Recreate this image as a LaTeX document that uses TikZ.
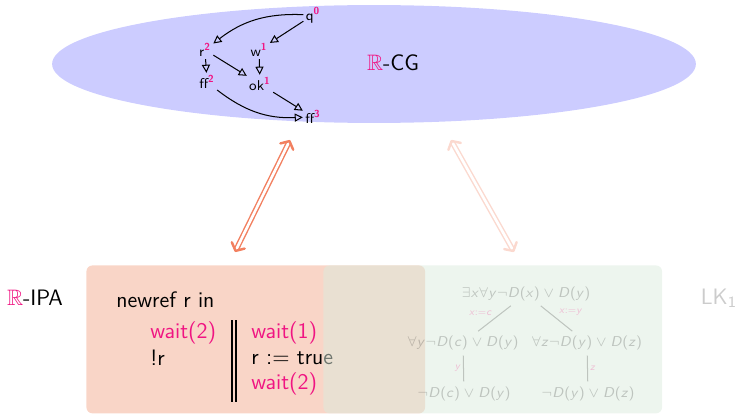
\documentclass[tikz,border=0pt]{standalone}
\definecolor{hot}{RGB}{240,20,130}
\definecolor{cgblue}{RGB}{204,204,255}
\definecolor{ipared}{RGB}{249,213,199}
\definecolor{lkgreen}{RGB}{219,235,221}
\definecolor{refc}{RGB}{242,128,96}
\usepackage{amsmath,amssymb}
\usepackage{tikz}
\usetikzlibrary{arrows.meta,positioning,shapes.geometric}
\SetSymbolFont{operators}{normal}{OT1}{cmss}{m}{n}
\SetSymbolFont{letters}{normal}{OT1}{cmss}{m}{it}

\newcommand{\lv}[1]{\textsuperscript{\textcolor{hot}{\bfseries #1}}}
\newcommand{\RR}{\textcolor{hot}{$\mathbb{R}$}}

\begin{document}
\begin{tikzpicture}[
  x=0.0173cm, y=-0.0173cm,
  font=\sffamily\fontsize{11}{13}\selectfont,
  gn/.style={font=\sffamily\fontsize{7}{8}\selectfont, inner sep=1pt},
  dep/.style={-{Triangle[open, length=4pt, width=4pt]}, line width=0.5pt},
  bigbox/.style={rectangle, rounded corners=3pt, minimum width=5.86cm, minimum height=2.56cm, anchor=north west, inner sep=0pt},
  code/.style={inner sep=0pt, anchor=west},
  ref/.style={{Straight Barb[round, length=3pt, width=7pt, line width=1.2pt]}-{Straight Barb[round, length=3pt, width=7pt, line width=1.2pt]}, double=white, double distance=1.3pt, line width=0.7pt, draw=refc},
  fml/.style={font=\fontsize{7.4}{8.5}\selectfont, inner sep=1.5pt, opacity=0.2},
  sub/.style={font=\fontsize{5}{6}\selectfont, text=hot, inner sep=1pt, opacity=0.25},
  tree/.style={draw, line width=0.5pt, opacity=0.2, shorten <=1pt, shorten >=1pt},
]
\useasboundingbox (0,0) rectangle (740,414);

% Game semantics
\node[ellipse, fill=cgblue, minimum width=11.14cm, minimum height=2.04cm, inner sep=0pt] (cg) at (374,64) {};
\node (cglab) at (393,63) {\RR-CG};

\node[gn] (q) at (313,15) {q\lv{0}};
\node[gn] (r) at (205,50) {r\lv{2}};
\node[gn] (w) at (259,50) {w\lv{1}};
\node[gn] (ff) at (207,82) {ff\lv{2}};
\node[gn] (ok) at (260,84) {ok\lv{1}};
\node[gn] (res) at (313,117) {ff\lv{3}};
\draw[dep] (q) to[bend right=20] (r);
\draw[dep] (q) -- (w);
\draw[dep] (r) -- (ff);
\draw[dep] (r) -- (ok);
\draw[dep] (w) -- (ok);
\draw[dep] (ff) to[bend right=20] (res);
\draw[dep] (ok) -- (res);

% Correspondences
\coordinate (cgl) at (290,140);
\coordinate (ipat) at (235,252);
\draw[ref] (ipat) -- (cgl);
\coordinate (cgr) at (451,140);
\coordinate (lkt) at (514,252);
\draw[ref, draw=refc!30] (cgr) -- (lkt);

% Program
\node (ipalab) at (35,298) {\RR-IPA};
\node[bigbox, fill=ipared] (ipa) at (86,265) {};
\node[code] (nr) at (116,300) {newref r in};
\node[code, text=hot] (wl) at (150,333) {wait(2)};
\node[code] (deref) at (150,358) {!r};
\node[code, text=hot] (wr) at (251,333) {wait(1)};
\node[code] (asg) at (251,358) {r $:=$ true};
\node[code, text=hot] (wr2) at (251,384) {wait(2)};
\draw[line width=0.6pt] (232,320) -- (232,402);
\draw[line width=0.6pt] (236,320) -- (236,402);

% Proof
\node[bigbox, fill=lkgreen, fill opacity=0.5] (lk) at (323,265) {};
\node[opacity=0.2] (lklab) at (719,298) {LK\textsubscript{1}};
\node[fml] (ex) at (526,294) {$\exists x\forall y\neg D(x)\vee D(y)$};
\node[fml] (al) at (463,343) {$\forall y\neg D(c)\vee D(y)$};
\node[fml] (ar) at (587,343) {$\forall z\neg D(y)\vee D(z)$};
\node[fml] (bl) at (464,394) {$\neg D(c)\vee D(y)$};
\node[fml] (br) at (588,394) {$\neg D(y)\vee D(z)$};
\draw[tree] (ex) -- node[sub, above left] {$x{:=}c$} (al);
\draw[tree] (ex) -- node[sub, above right] {$x{:=}y$} (ar);
\draw[tree] (al) -- node[sub, left] {$y$} (bl);
\draw[tree] (ar) -- node[sub, right] {$z$} (br);

\end{tikzpicture}
\end{document}
